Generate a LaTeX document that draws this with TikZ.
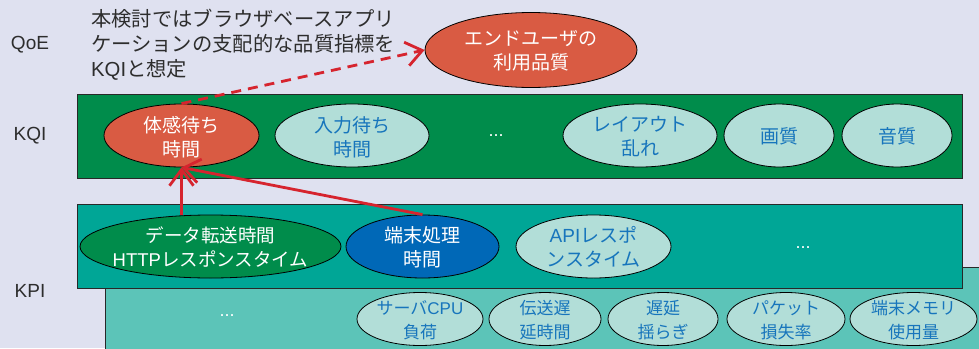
\documentclass[tikz,border=0pt]{standalone}
\usepackage{fontspec}
\setmainfont{Noto Sans CJK JP}
\newfontfamily\lat{Liberation Sans}
\usetikzlibrary{shapes.geometric,arrows.meta}
\definecolor{bgc}{RGB}{223,225,240}
\definecolor{kqig}{RGB}{0,140,75}
\definecolor{kpit}{RGB}{0,166,150}
\definecolor{kpil}{RGB}{92,196,184}
\definecolor{lightel}{RGB}{178,222,216}
\definecolor{redel}{RGB}{217,91,67}
\definecolor{blueel}{RGB}{0,104,183}
\definecolor{tblue}{RGB}{23,117,188}
\definecolor{ared}{RGB}{214,36,46}
\definecolor{edge}{RGB}{40,40,40}
\definecolor{dtext}{RGB}{45,45,45}
\begin{document}
\begin{tikzpicture}[x=1pt,y=-1pt,
  eln/.style={ellipse, draw=black, line width=0.8pt, inner sep=0pt},
  big/.style={font=\fontsize{19}{24}\selectfont, align=center, inner sep=0pt},
  small/.style={font=\fontsize{17}{24}\selectfont, align=center, inner sep=0pt},
  wt/.style={text=white},
  bt/.style={text=tblue},
  lvl/.style={font=\lat\fontsize{19}{22}\selectfont, text=dtext, inner sep=0pt},
  dotsn/.style={text=white, inner sep=0pt, anchor=base, font=\lat\fontsize{18}{20}\selectfont},
  bar/.style={draw=edge, line width=1pt},
  arr/.style={draw=ared, line width=2.8pt, -{Straight Barb[length=16pt,width=24pt,line width=2.8pt]}}]
\useasboundingbox (0,0) rectangle (979,348);
\clip (0,0) rectangle (979,348);
\fill[bgc] (0,0) rectangle (979,348);
% bars
\path[bar, fill=kpil] (105,267) rectangle (990,360);
\path[bar, fill=kpit] (77,204) rectangle (962,288);
\path[bar, fill=kqig] (77,94) rectangle (962,178);
% level labels
\node[lvl] (qoe) at (30,45) {QoE};
\node[lvl] (kqi) at (30,136) {KQI};
\node[lvl] (kpi) at (30,291) {KPI};
% note
\node[font=\fontsize{20.3}{25}\selectfont, align=left, anchor=west, inner sep=0pt, text=dtext] (note) at (91,45) {本検討ではブラウザベースアプリ\\ケーションの支配的な品質指標を\\{\lat KQI}と想定};
% QoE ellipse
\node[eln, fill=redel, minimum width=212pt, minimum height=75pt] (eu) at (531,50) {};
\node[big, wt] (eut) at (531,51) {エンドユーザの\\利用品質};
% KQI ellipses
\node[eln, fill=redel, minimum width=155pt, minimum height=63pt] (tk) at (181.5,135.5) {};
\node[big, wt] (tkt) at (181.5,137) {体感待ち\\時間};
\node[eln, fill=lightel, minimum width=154pt, minimum height=63pt] (nm) at (352,135.5) {};
\node[big, bt] (nmt) at (352,137) {入力待ち\\時間};
\node[dotsn] (kqidots) at (496,136) {...};
\node[eln, fill=lightel, minimum width=154pt, minimum height=63pt] (lo) at (640,135.5) {};
\node[big, bt] (lot) at (640,137) {レイアウト\\乱れ};
\node[eln, fill=lightel, minimum width=110pt, minimum height=63pt] (gq) at (779,135.5) {};
\node[big, bt] (gqt) at (779,136) {画質};
\node[eln, fill=lightel, minimum width=110pt, minimum height=63pt] (oq) at (897,135.5) {};
\node[big, bt] (oqt) at (897,136) {音質};
% KPI upper ellipses
\node[eln, fill=kqig, minimum width=261pt, minimum height=63pt] (dt) at (210.5,246.5) {};
\node[big, wt, font=\fontsize{18.5}{24}\selectfont] (dtt) at (210.5,247) {データ転送時間\\{\lat HTTP}レスポンスタイム};
\node[eln, fill=blueel, minimum width=153pt, minimum height=63pt] (tp) at (422.5,246.5) {};
\node[big, wt] (tpt) at (422.5,247) {端末処理\\時間};
\node[eln, fill=lightel, minimum width=155pt, minimum height=63pt] (api) at (593.5,246.5) {};
\node[big, bt] (apit) at (593.5,247) {{\lat API}レスポ\\ンスタイム};
\node[dotsn] (kpidots) at (803,248) {...};
% KPI lower ellipses
\node[dotsn] (lowdots) at (227,316) {...};
\node[eln, fill=lightel, minimum width=126pt, minimum height=53pt] (sc) at (420,319) {};
\node[small, bt] (sct) at (420,320) {サーバ{\lat CPU}\\負荷};
\node[eln, fill=lightel, minimum width=112pt, minimum height=53pt] (td) at (545,319) {};
\node[small, bt] (tdt) at (545,320) {伝送遅\\延時間};
\node[eln, fill=lightel, minimum width=110pt, minimum height=53pt] (jy) at (663,319) {};
\node[small, bt] (jyt) at (663,320) {遅延\\揺らぎ};
\node[eln, fill=lightel, minimum width=118pt, minimum height=53pt] (pl) at (786,319) {};
\node[small, bt] (plt) at (786,320) {パケット\\損失率};
\node[eln, fill=lightel, minimum width=127pt, minimum height=53pt] (mm) at (913.5,319) {};
\node[small, bt] (mmt) at (913.5,320) {端末メモリ\\使用量};
% connectors
\draw[arr, dash pattern=on 10pt off 7pt] (tk.north) -- (eu.west);
\draw[arr] (dt.north -| tk.south) -- (tk.south);
\draw[arr] (tp.north) -- (tk.south);
\end{tikzpicture}
\end{document}
